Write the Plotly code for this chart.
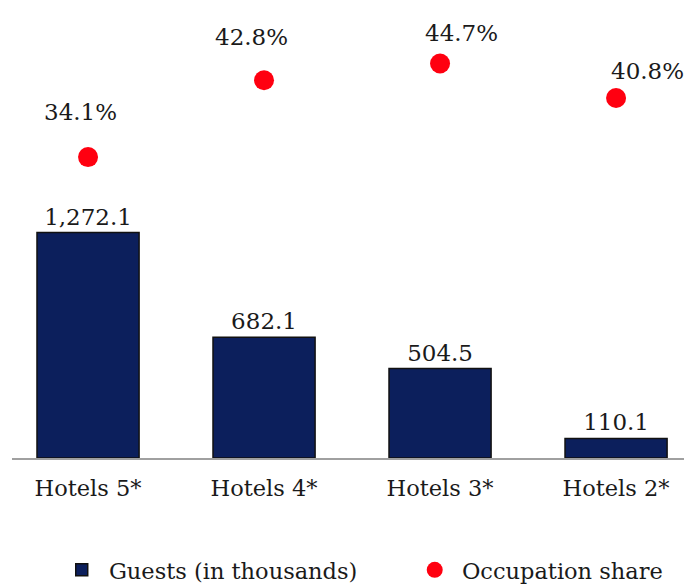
import plotly.graph_objects as go

categories = ["Hotels 5*", "Hotels 4*", "Hotels 3*", "Hotels 2*"]
guests = [1272.1, 682.1, 504.5, 110.1]
occupation = [34.1, 42.8, 44.7, 40.8]

guest_labels = [f"{v:,.1f}" for v in guests]
occ_labels = [f"{v:.1f}%" for v in occupation]

# style: manual placement of the percentage labels (pixel offsets from each dot)
occ_label_dx = [-8, -13, 21, 31]
occ_label_dy = [45, 43, 31, 27]

FONT = "DejaVu Serif"
TXT = 22.5

fig = go.Figure()
fig.add_trace(go.Bar(
    x=categories, y=guests, name=" Guests (in thousands)",
    marker=dict(color="#0c1f5c", line=dict(color="#111111", width=1.5)),
    width=0.58, text=guest_labels, textposition="outside",
    textfont=dict(size=23, color="#1a1a1a", family=FONT),
    cliponaxis=False, legendwidth=308,
))
fig.add_trace(go.Scatter(
    x=categories, y=occupation, name=" Occupation share", yaxis="y2",
    mode="markers", marker=dict(color="#ff0010", size=20),
    cliponaxis=False,
))

for c, v, t, dx, dy in zip(categories, occupation, occ_labels, occ_label_dx, occ_label_dy):
    fig.add_annotation(x=c, y=v, xref="x", yref="y2", text=t, showarrow=False,
                       xanchor="center", yanchor="middle", xshift=dx, yshift=dy,
                       font=dict(size=23, color="#1a1a1a", family=FONT))

fig.update_layout(
    width=684, height=585,
    margin=dict(l=12, r=0, t=0, b=127, autoexpand=False),
    paper_bgcolor="white", plot_bgcolor="white",
    font=dict(family=FONT, size=TXT, color="#1a1a1a"),
    showlegend=True,
    legend=dict(orientation="h", x=0.074, xanchor="left", y=-0.245, yanchor="middle",
                font=dict(size=TXT, family=FONT)),
    xaxis=dict(range=[-0.432, 3.386], showline=True, linecolor="#a0a0a0", linewidth=2,
               showgrid=False, ticks="", ticklabelstandoff=9,
               tickfont=dict(size=TXT, family=FONT)),
    yaxis=dict(range=[0, 2585], visible=False, showgrid=False),
    yaxis2=dict(range=[0, 51.9], overlaying="y", side="right", visible=False, showgrid=False),
)

fig.write_html("out.html", config={"displayModeBar": False},
               post_script="document.body.style.margin='0px';")
